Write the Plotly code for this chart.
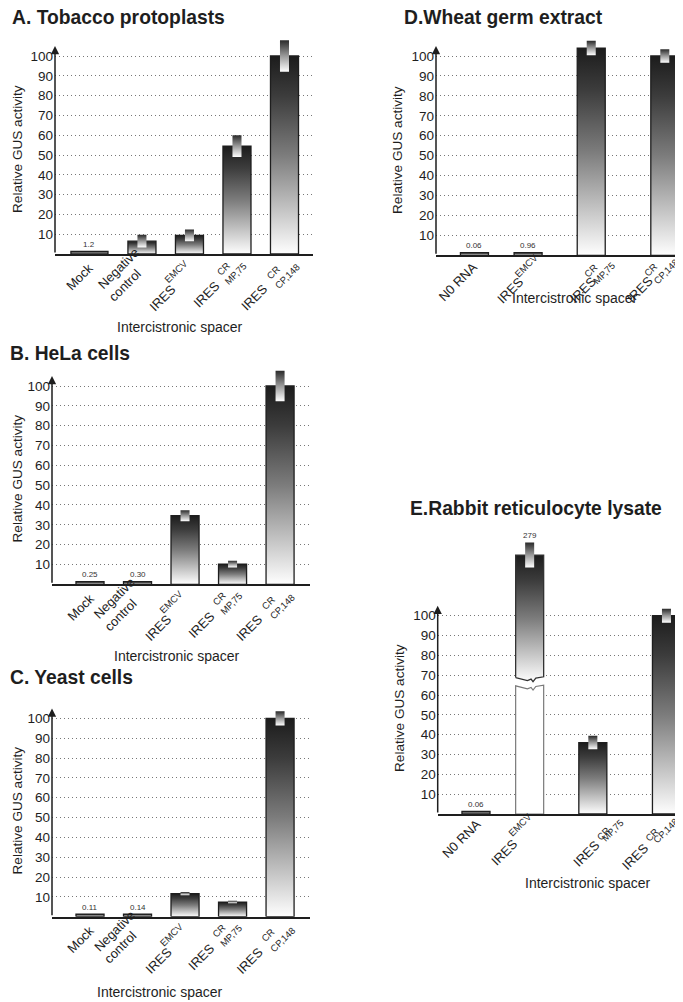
import plotly.graph_objects as go

W, H = 683, 1002
OFF = 8  # page body margin of the html page

# ---------------- data ----------------
CELL_LABELS = [["Mock"], ["Negative", "control"], ["IRES", "EMCV"],
               ["IRES", "CR", "MP,75"], ["IRES", "CR", "CP,148"]]
VITRO_LABELS = [["N0 RNA"], ["IRES", "EMCV"],
                ["IRES", "CR", "MP,75"], ["IRES", "CR", "CP,148"]]

TOB_VALS = [1.2, 6.5, 9.4, 54.5, 100]
TOB_ERR = [0, 3.2, 3.0, 5.5, 8.0]
TOB_NOTES = ["1.2", None, None, None, None]

HELA_VALS = [0.25, 0.30, 34.6, 10.2, 100]
HELA_ERR = [0, 0, 2.8, 1.7, 7.7]
HELA_NOTES = ["0.25", "0.30", None, None, None]

YEAST_VALS = [0.11, 0.14, 11.6, 7.4, 100]
YEAST_ERR = [0, 0, 0.8, 0.6, 3.6]
YEAST_NOTES = ["0.11", "0.14", None, None, None]

WGE_VALS = [0.06, 0.96, 104, 100]
WGE_ERR = [0, 0, 3.6, 3.4]
WGE_NOTES = ["0.06", "0.96", None, None]

RRL_VALS = [0.06, 279, 36, 100]
RRL_ERR = [0, 6.3, 3.4, 3.5]
RRL_NOTES = ["0.06", "279", None, None]

Y_TICKS = [10, 20, 30, 40, 50, 60, 70, 80, 90, 100]
X_TITLE = "Intercistronic spacer"
Y_TITLE = "Relative GUS activity"

# ---------------- styles / layout (pixels) ----------------
POS_A = [-0.105, 1, 2, 3, 4]
POS5 = [0, 1, 2, 3, 4]
POS4 = [0, 1.13, 2.46, 4.01]
WID_A = [0.78, 0.59, 0.59, 0.59, 0.59]
WID5 = [0.59] * 5
WID4 = [0.59] * 4
ERR_W = 0.19
MIN_SHOWN = 1.3
NOTE_OFF = 3.5
BAR_SCALE = [[0, "#fefefe"], [0.5, "#7c7c7c"], [0.8, "#3c3c3c"], [1, "#1c1c1c"]]
ERR_SCALE = [[0, "#ffffff"], [0.5, "#9a9a9a"], [1, "#2a2a2a"]]
INK = "#1e1e1e"
FONT = "Liberation Sans, Arial, sans-serif"
MAIN_SIZE = 13
SCRIPT_SIZE = 9.5
TITLE_SIZE = 19.3

# label part centres relative to (tick, baseline) in px (dx right, dy down)
CELL_LAB_OFF = [[(-9.5, 22.8)], [(-23.5, 14.6), (-17.5, 31.0)],
                [(-26.5, 43.3), (-13.8, 17.3)],
                [(-30.8, 40.0), (-13.5, 14.0), (-1.5, 19.0)],
                [(-30.3, 43.3), (-11.7, 18.0), (2.3, 22.3)]]
WGE_LAB_OFF = [[(-16.2, 26.4)], [(-18.0, 35.0), (-2.0, 10.0)],
               [(-7.7, 34.7), (-0.3, 15.4), (12.3, 18.0)],
               [(-24.8, 34.7), (-13.8, 14.7), (1.2, 16.4)]]
RRL_LAB_OFF = [[(-14.5, 24.0)], [(-25.5, 38.3), (-9.5, 10.7)],
               [(-6.3, 39.3), (10.3, 19.0), (19.3, 16.0)],
               [(-31.0, 42.7), (-14.3, 20.7), (-1.0, 16.0)]]

# broken bar in panel E: index -> (shown top, lower piece top, upper piece bottom)
BROKEN = {1: (130.6, 64.0, 68.2)}
WAVE = [(0.0, 0.6), (0.42, -0.9), (0.55, -0.2), (0.62, -1.5), (0.72, 0.3), (1.0, 1.0)]

PANELS = [
    dict(title="A. Tobacco protoplasts", labels=CELL_LABELS, loff=CELL_LAB_OFF,
         pos=POS_A, wid=WID_A, vals=TOB_VALS, err=TOB_ERR, notes=TOB_NOTES,
         xpx=(55, 313), ypx=(254, 1.98), yr=110, xr=(-0.83, 4.60),
         tpos=(10, 17.5), ytpos=(17, 149), xtpos=(180, 327)),
    dict(title="B. HeLa cells", labels=CELL_LABELS, loff=CELL_LAB_OFF,
         pos=POS5, wid=WID5, vals=HELA_VALS, err=HELA_ERR, notes=HELA_NOTES,
         xpx=(52, 310), ypx=(584.3, 1.983), yr=110, xr=(-0.80, 4.63),
         tpos=(8, 353), ytpos=(16.5, 479), xtpos=(177, 656)),
    dict(title="C. Yeast cells", labels=CELL_LABELS, loff=CELL_LAB_OFF,
         pos=POS5, wid=WID5, vals=YEAST_VALS, err=YEAST_ERR, notes=YEAST_NOTES,
         xpx=(52, 310), ypx=(916.7, 1.983), yr=110, xr=(-0.80, 4.63),
         tpos=(8, 677), ytpos=(16.5, 811), xtpos=(160, 992)),
    dict(title="D.Wheat germ extract", labels=VITRO_LABELS, loff=WGE_LAB_OFF,
         pos=POS4, wid=WID4, vals=WGE_VALS, err=WGE_ERR, notes=WGE_NOTES,
         xpx=(436, 680), ypx=(255.3, 1.993), yr=110, xr=(-0.81, 4.33),
         tpos=(402, 17.5), ytpos=(398, 150), xtpos=(575, 298)),
    dict(title="E.Rabbit reticulocyte lysate", labels=VITRO_LABELS, loff=RRL_LAB_OFF,
         pos=POS4, wid=WID4, vals=RRL_VALS, err=RRL_ERR, notes=RRL_NOTES, broken=BROKEN,
         xpx=(437.7, 680), ypx=(814, 1.983), yr=145, xr=(-0.806, 4.295),
         tpos=(408, 508), ytpos=(399, 708), xtpos=(588, 883)),
]

ARROW_TOP = 105


def px_x(v):
    return (v - OFF) / W


def px_y(v):
    return 1 - (v - OFF) / H


fig = go.Figure()
annotations = []
layout = {}


def poly(x, y, xa, ya, **kw):
    fig.add_trace(go.Scatter(x=x, y=y, xaxis=xa, yaxis=ya, fill="toself",
                             hoverinfo="skip", showlegend=False, **kw))


for i, p in enumerate(PANELS):
    n = i + 1
    xa = "x" if n == 1 else f"x{n}"
    ya = "y" if n == 1 else f"y{n}"
    xk = "xaxis" if n == 1 else f"xaxis{n}"
    yk = "yaxis" if n == 1 else f"yaxis{n}"
    y0, sc = p["ypx"]
    ytop = y0 - p["yr"] * sc
    broken = p.get("broken", {})

    for j, (c, v, e) in enumerate(zip(p["pos"], p["vals"], p["err"])):
        bw = p["wid"][j]
        l, r = c - bw / 2, c + bw / 2
        if j in broken:
            top, lo, hi = broken[j]
            bx = [l, r] + [l + f * (r - l) for f, _ in reversed(WAVE)] + [l]
            by = [0, 0] + [lo + d for _, d in reversed(WAVE)] + [0]
            poly(bx, by, xa, ya, mode="lines", fillcolor="white",
                 line=dict(color="#7a7a7a", width=1.2))
            tx = [l + f * (r - l) for f, _ in WAVE] + [r, l, l]
            ty = [hi + d for _, d in WAVE] + [top, top, hi + WAVE[0][1]]
            poly(tx, ty, xa, ya, mode="lines",
                 fillgradient=dict(type="vertical", colorscale=BAR_SCALE),
                 line=dict(color="#333333", width=1.3))
            shown = top
        else:
            shown = max(v, MIN_SHOWN)
            poly([l, r, r, l, l], [0, 0, shown, shown, 0], xa, ya, mode="lines",
                 fillgradient=dict(type="vertical", colorscale=BAR_SCALE),
                 line=dict(color=INK, width=1.3))
        if e > 0:
            el, er = c - ERR_W / 2, c + ERR_W / 2
            poly([el, er, er, el, el],
                 [shown - e, shown - e, shown + e, shown + e, shown - e], xa, ya,
                 mode="none", fillgradient=dict(type="vertical", colorscale=ERR_SCALE))
        note = p["notes"][j]
        if note:
            annotations.append(dict(x=c, y=shown + e + NOTE_OFF, xref=xa, yref=ya,
                                    text=note, showarrow=False, xanchor="center",
                                    yanchor="middle",
                                    font=dict(size=8, color="#333333", family=FONT)))
        # rotated category label, built from its parts
        for k, (txt, (dx, dy)) in enumerate(zip(p["labels"][j], p["loff"][j])):
            is_script = k > 0 and txt != "control"
            annotations.append(dict(x=c, y=0, xref=xa, yref=ya, text=txt,
                                    showarrow=False, textangle=-45,
                                    xanchor="center", yanchor="middle",
                                    xshift=dx, yshift=-dy,
                                    font=dict(size=SCRIPT_SIZE if is_script else MAIN_SIZE,
                                              color=INK, family=FONT)))

    layout[xk] = dict(domain=[px_x(p["xpx"][0]), px_x(p["xpx"][1])], range=list(p["xr"]),
                      anchor=ya, showticklabels=False, ticks="",
                      showline=True, linecolor=INK, linewidth=1.5, showgrid=False,
                      zeroline=False, fixedrange=True)
    layout[yk] = dict(domain=[px_y(y0), px_y(ytop)], range=[0, p["yr"]], anchor=xa,
                      tickvals=Y_TICKS, ticktext=[str(t) for t in Y_TICKS],
                      tickfont=dict(size=13.5, color=INK, family=FONT),
                      showgrid=True, griddash="1px,3px", gridcolor="#777777", gridwidth=1,
                      zeroline=False, showline=False, ticks="", ticklabelstandoff=1,
                      fixedrange=True)

    # y axis line with arrow head
    annotations.append(dict(x=p["xr"][0], y=ARROW_TOP, ax=p["xr"][0], ay=0,
                            xref=xa, yref=ya, axref=xa, ayref=ya, text="",
                            showarrow=True, arrowhead=2, arrowsize=1.1, arrowwidth=1.5,
                            arrowcolor=INK))
    # panel title
    annotations.append(dict(x=px_x(p["tpos"][0]), y=px_y(p["tpos"][1]), xref="paper",
                            yref="paper", xanchor="left", yanchor="middle", showarrow=False,
                            text=f"<b>{p['title']}</b>",
                            font=dict(size=TITLE_SIZE, color=INK, family=FONT)))
    # axis titles
    annotations.append(dict(x=px_x(p["ytpos"][0]), y=px_y(p["ytpos"][1]), xref="paper",
                            yref="paper", xanchor="center", yanchor="middle",
                            textangle=-90, showarrow=False, text=Y_TITLE,
                            font=dict(size=13.6, color=INK, family=FONT)))
    annotations.append(dict(x=px_x(p["xtpos"][0]), y=px_y(p["xtpos"][1]), xref="paper",
                            yref="paper", xanchor="center", yanchor="middle",
                            showarrow=False, text=X_TITLE,
                            font=dict(size=14, color=INK, family=FONT)))

fig.update_layout(template="none", width=W, height=H, margin=dict(l=0, r=0, t=0, b=0),
                  paper_bgcolor="white", plot_bgcolor="white", showlegend=False,
                  annotations=annotations, font=dict(family=FONT, color=INK), **layout)

fig.write_html("out.html")
